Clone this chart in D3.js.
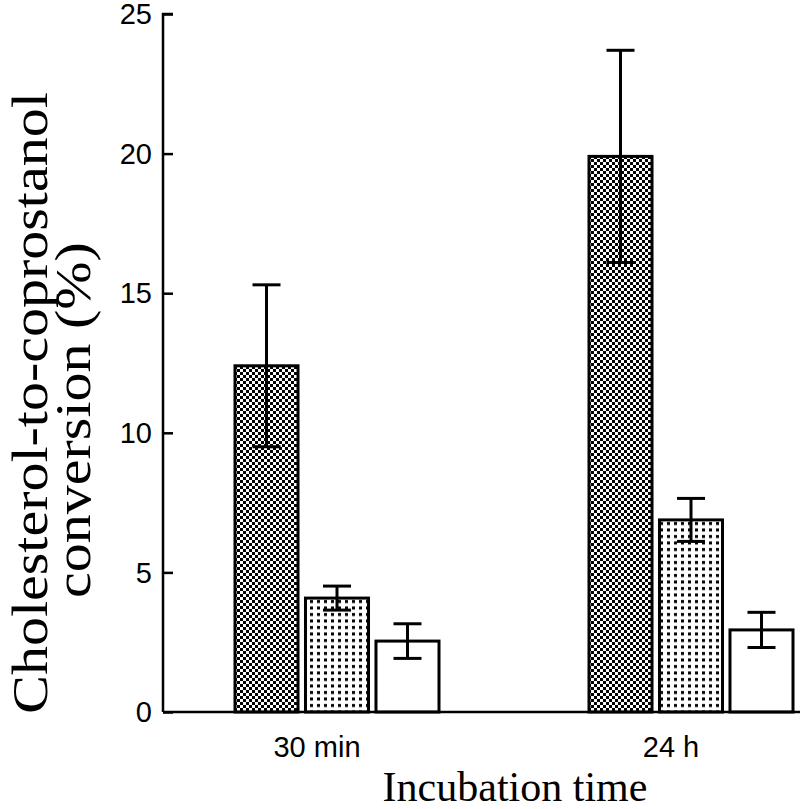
<!DOCTYPE html>
<html>
<head>
<meta charset="utf-8">
<script src="https://cdn.jsdelivr.net/npm/d3@7"></script>
<style>
  html, body { margin: 0; padding: 0; background: #fff; }
  svg { display: block; }
</style>
</head>
<body>
<svg id="chart" width="800" height="809"></svg>
<script>
const categories = ["30 min", "24 h"];
const seriesNames = ["A", "B", "C"];
const seriesA = [12.4, 19.9];
const seriesB = [4.08, 6.88];
const seriesC = [2.54, 2.94];
const errorA = [2.9, 3.8];
const errorB = [0.43, 0.77];
const errorC = [0.62, 0.63];
const yTicks = [0, 5, 10, 15, 20, 25];
const xTitle = "Incubation time";
const yTitleLines = ["Cholesterol-to-coprostanol", "conversion (%)"];

const values = [seriesA, seriesB, seriesC];
const errors = [errorA, errorB, errorC];
const rows = [];
categories.forEach((c, ci) => {
  seriesNames.forEach((s, si) => {
    rows.push({cat: c, ser: s, si, v: values[si][ci], e: errors[si][ci]});
  });
});

const svg = d3.select("#chart");
const axisX = 163, axisBottom = 712, axisTop = 14;

const y = d3.scaleLinear().domain([0, 25]).range([axisBottom, axisTop]);
const x0 = d3.scaleBand().domain(categories).range([163, 871]).paddingInner(0);
const x1 = d3.scaleBand().domain(seriesNames).range([72, 276]).paddingInner(0.106);

// patterns
const defs = svg.append("defs");
const p1 = defs.append("pattern").attr("id", "checker").attr("patternUnits", "userSpaceOnUse")
  .attr("width", 6).attr("height", 6);
p1.append("rect").attr("width", 6).attr("height", 6).attr("fill", "#fff");
p1.append("rect").attr("x", 0).attr("y", 0).attr("width", 3).attr("height", 3).attr("fill", "#000");
p1.append("rect").attr("x", 3).attr("y", 3).attr("width", 3).attr("height", 3).attr("fill", "#000");

const p2 = defs.append("pattern").attr("id", "dots").attr("patternUnits", "userSpaceOnUse")
  .attr("width", 7).attr("height", 6.5);
p2.append("rect").attr("width", 7).attr("height", 6.5).attr("fill", "#fff");
p2.append("rect").attr("x", 2).attr("y", 2).attr("width", 3).attr("height", 3).attr("fill", "#000");

const fills = {A: "url(#checker)", B: "url(#dots)", C: "#fff"};

// bars
svg.append("g").selectAll("rect").data(rows).join("rect")
  .attr("x", d => x0(d.cat) + x1(d.ser))
  .attr("y", d => y(d.v))
  .attr("width", x1.bandwidth())
  .attr("height", d => y(0) - y(d.v))
  .attr("fill", d => fills[d.ser])
  .attr("stroke", "#000")
  .attr("stroke-width", 3);

// error bars
const eg = svg.append("g").attr("stroke", "#000").attr("stroke-width", 3);
const capW = 28;
rows.forEach(d => {
  const cx = x0(d.cat) + x1(d.ser) + x1.bandwidth() / 2;
  eg.append("line").attr("x1", cx).attr("x2", cx).attr("y1", y(d.v + d.e)).attr("y2", y(d.v - d.e));
  eg.append("line").attr("x1", cx - capW / 2).attr("x2", cx + capW / 2).attr("y1", y(d.v + d.e)).attr("y2", y(d.v + d.e));
  eg.append("line").attr("x1", cx - capW / 2).attr("x2", cx + capW / 2).attr("y1", y(d.v - d.e)).attr("y2", y(d.v - d.e));
});

// y axis with inward ticks
const yAxis = d3.axisRight(y).tickValues(yTicks).tickSize(10).tickFormat("");
const yg = svg.append("g").attr("transform", `translate(${axisX},0)`).call(yAxis);
yg.select(".domain").attr("d", `M10,${axisTop}H0V${axisBottom}`).attr("stroke-width", 2.5);
yg.selectAll(".tick line").attr("stroke-width", 2.5);

svg.append("g").selectAll("text").data(yTicks).join("text")
  .attr("x", 152).attr("y", d => y(d)).attr("dy", "0.35em")
  .attr("text-anchor", "end")
  .attr("font-family", "Liberation Sans, Arial, sans-serif")
  .attr("font-size", 29)
  .text(d => d);

// x axis line
svg.append("line").attr("x1", axisX).attr("x2", 800).attr("y1", axisBottom).attr("y2", axisBottom)
  .attr("stroke", "#000").attr("stroke-width", 2.5);

// category labels
svg.append("g").selectAll("text").data(categories).join("text")
  .attr("x", d => x0(d) + (x1.range()[0] + x1.range()[1]) / 2 - 20)
  .attr("y", 757)
  .attr("text-anchor", "middle")
  .attr("font-family", "Liberation Sans, Arial, sans-serif")
  .attr("font-size", 29)
  .text(d => d);

// x title
svg.append("text").attr("x", 515).attr("y", 801).attr("text-anchor", "middle")
  .attr("font-family", "Liberation Serif, Times New Roman, serif")
  .attr("font-size", 42).text(xTitle);

// y title (stretched along its reading direction, as in the original)
const yTitleCenters = [403, 420];
const yTitleBaselines = [47, 90];
yTitleLines.forEach((t, i) => {
  svg.append("text")
    .attr("transform", `translate(${yTitleBaselines[i]},${yTitleCenters[i]}) rotate(-90) scale(1.16,1)`)
    .attr("text-anchor", "middle")
    .attr("font-family", "Liberation Serif, Times New Roman, serif")
    .attr("font-size", 50)
    .text(t);
});
</script>
</body>
</html>
